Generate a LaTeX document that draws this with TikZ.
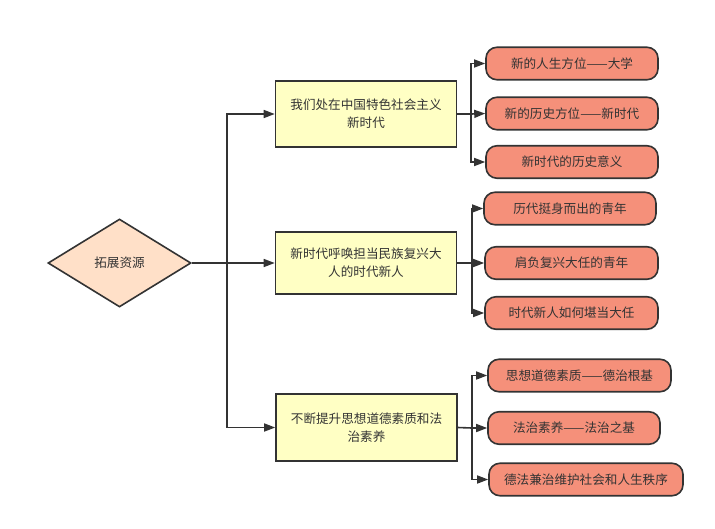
\documentclass[tikz,border=0pt]{standalone}
\usepackage{fontspec}
\usetikzlibrary{shapes.geometric,arrows.meta}
\newfontfamily\cjk{Noto Sans CJK SC}
\definecolor{linec}{HTML}{333333}
\definecolor{txtc}{HTML}{333333}
\definecolor{peach}{HTML}{FFE0C8}
\definecolor{lyellow}{HTML}{FFFFC4}
\definecolor{salmon}{HTML}{F5907A}
\begin{document}
\begin{tikzpicture}[x=1pt,y=-1pt,
  every node/.style={font=\cjk\fontsize{12.6}{18}\selectfont, text=txtc},
  root/.style={shape=diamond, draw=linec, line width=1.6pt, fill=peach, minimum width=143pt, minimum height=88pt, inner sep=0pt, aspect=1.625},
  mainbox/.style={draw=linec, line width=1.6pt, fill=lyellow, minimum width=181pt, align=center, inner sep=0pt},
  leaf/.style={draw=linec, line width=1.6pt, fill=salmon, rounded corners=11pt, minimum height=32.5pt, inner sep=0pt},
  conn/.style={draw=linec, line width=1.6pt},
  arr/.style={conn, -{Triangle[length=11pt,width=8pt]}}
]
\useasboundingbox (0,0) rectangle (715,528);
\node[root] (r) at (119.5,263) {拓展资源};
\node[mainbox, minimum height=66pt] (b1) at (366,114) {我们处在中国特色社会主义\\新时代};
\node[mainbox, minimum height=62pt] (b2) at (366,263) {新时代呼唤担当民族复兴大\\人的时代新人};
\node[mainbox, minimum height=67pt] (b3) at (366.5,427.5) {不断提升思想道德素质和法\\治素养};
\node[leaf, minimum width=172pt] (l1) at (572,63.5) {新的人生方位——大学};
\node[leaf, minimum width=172pt] (l2) at (572,113.5) {新的历史方位——新时代};
\node[leaf, minimum width=172pt] (l3) at (572,162) {新时代的历史意义};
\node[leaf, minimum width=172pt] (l4) at (570,208.5) {历代挺身而出的青年};
\node[leaf, minimum width=173pt] (l5) at (571.5,263) {肩负复兴大任的青年};
\node[leaf, minimum width=173pt] (l6) at (571.5,313) {时代新人如何堪当大任};
\node[leaf, minimum width=183pt] (l7) at (579.5,375.5) {思想道德素质——德治根基};
\node[leaf, minimum width=172pt] (l8) at (574,428) {法治素养——法治之基};
\node[leaf, minimum width=194pt] (l9) at (586,479.5) {德法兼治维护社会和人生秩序};
\coordinate (t) at (227,263);
\coordinate (j1) at (471,114);
\coordinate (j2) at (472,263);
\coordinate (j3) at (472,428);
\draw[conn] (r.east) -- (t);
\draw[arr] (t) -- (b2.west);
\draw[arr] (t) |- (b1.west);
\draw[arr] (t) |- (b3.west);
\draw[conn] (b1.east) -- (j1);
\draw[arr] (j1) |- (l1.west);
\draw[arr] (j1) -- (l2.west);
\draw[arr] (j1) |- (l3.west);
\draw[conn] (b2.east) -- (j2);
\draw[arr] (j2) |- (l4.west);
\draw[arr] (j2) -- (l5.west);
\draw[arr] (j2) |- (l6.west);
\draw[conn] (b3.east) -- (j3);
\draw[arr] (j3) |- (l7.west);
\draw[arr] (j3) -- (l8.west);
\draw[arr] (j3) |- (l9.west);
\end{tikzpicture}
\end{document}
